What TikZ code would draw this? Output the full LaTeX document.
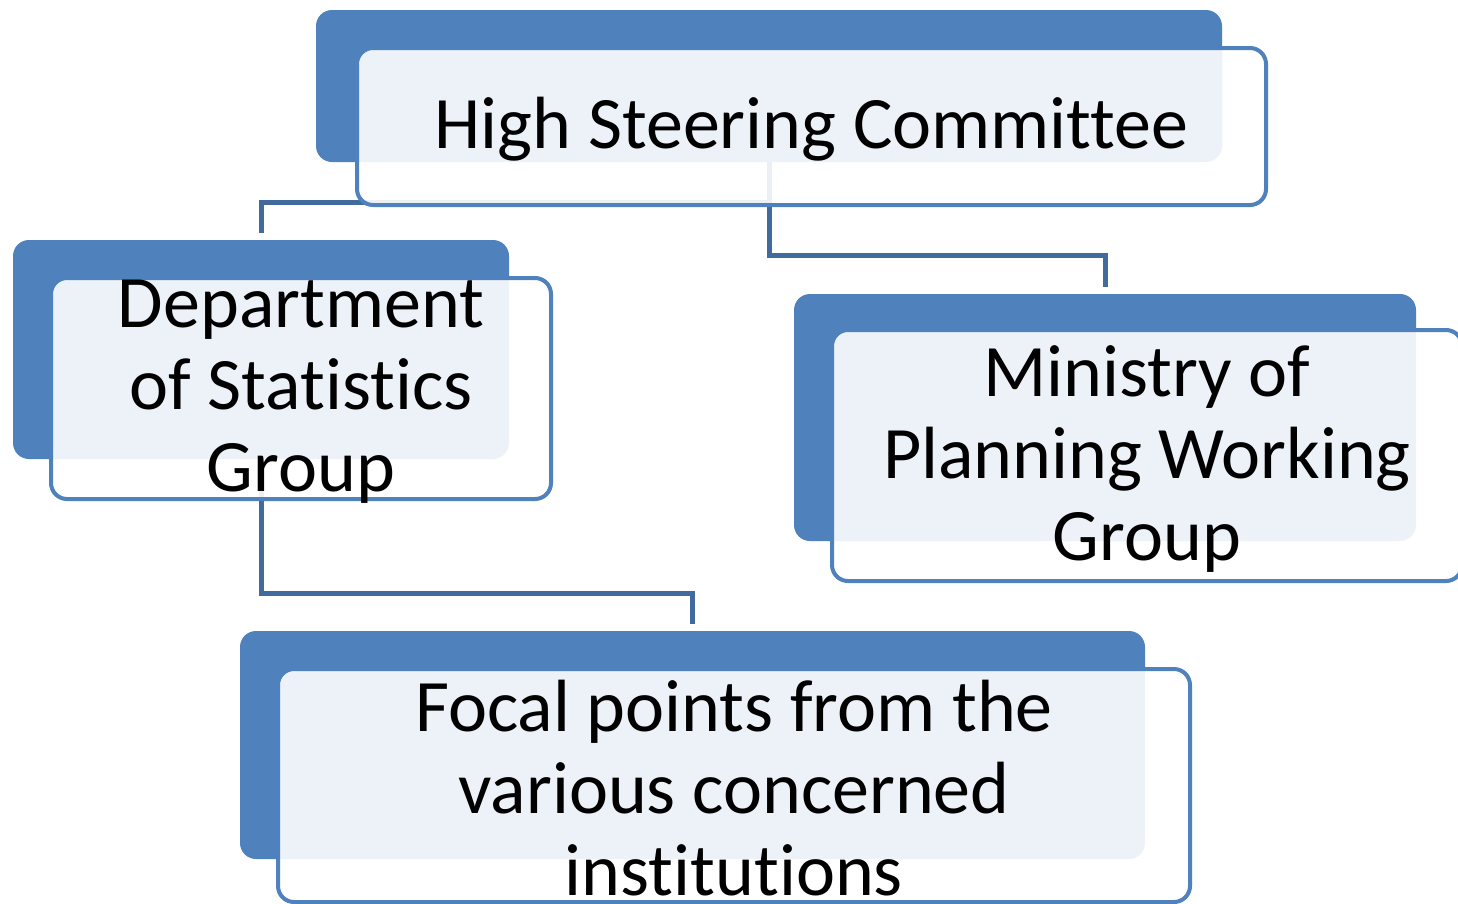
\documentclass[tikz,border=0pt]{standalone}
\usepackage{fontspec}
\setmainfont{Carlito}[Ligatures={NoCommon,NoContextual}]
\definecolor{blue1}{RGB}{79,129,189}
\definecolor{blue2}{RGB}{65,106,158}

\begin{document}
\begin{tikzpicture}[x=1pt, y=-1pt]

\tikzstyle{box}		=[rectangle, rounded corners=16pt, inner sep=0pt]
\tikzstyle{back}		=[box, fill=blue1]
\tikzstyle{front}		=[box, draw=blue1, line width=4pt, fill=white, fill opacity=0.9]
\tikzstyle{txt}		=[align=center, inner sep=0pt, yshift=-3pt, font=\fontsize{74}{82}\selectfont]
\tikzstyle{connection}	=[line width=5pt, draw=blue2, shorten >=7pt]

\useasboundingbox (0,0) rectangle (1458,903);

% back boxes
\node[back, minimum width=906, minimum height=152] (b1) at (769,86)    {};
\node[back, minimum width=496, minimum height=219] (b2) at (261,349.5) {};
\node[back, minimum width=622, minimum height=247] (b3) at (1105,417.5) {};
\node[back, minimum width=905, minimum height=228] (b4) at (692.5,745) {};

% connections
\draw [connection]  (b1.south) -- ++(0,40)  -| (b2.north);
\draw [connection]  (b1.south) -- ++(0,93)  -| (b3.north);
\draw [connection]  (b2.south) -- ++(0,134) -| (b4.north);

% front boxes
\node[front, minimum width=909, minimum height=157] (f1) at (811.5,126.5) {};
\node[front, minimum width=500, minimum height=221] (f2) at (301,388.5)   {};
\node[front, minimum width=630, minimum height=251] (f3) at (1147,455.5)  {};
\node[front, minimum width=912, minimum height=233] (f4) at (734,785.5)   {};

\node[txt] (t1) at (f1) {High Steering Committee};
\node[txt] (t2) at (f2) {Department\\of Statistics\\Group};
\node[txt] (t3) at (f3) {Ministry of\\Planning Working\\Group};
\node[txt] (t4) at (f4) {Focal points from the\\various concerned\\institutions};

\end{tikzpicture}
\end{document}
